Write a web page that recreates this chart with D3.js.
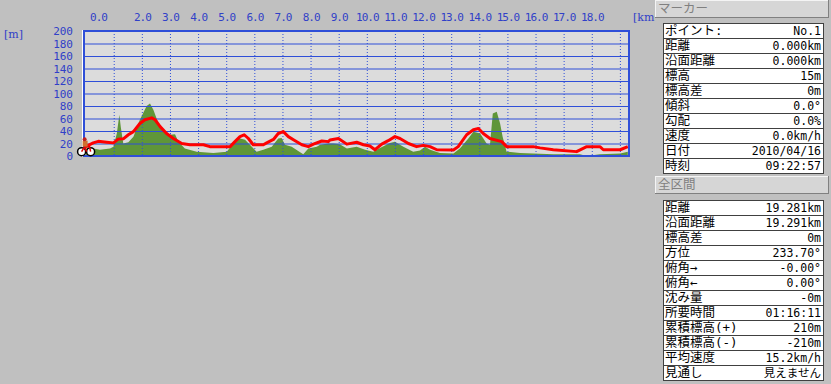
<!DOCTYPE html>
<meta charset="utf-8">
<script src="https://d3js.org/d3.v7.min.js"></script>
<style>
body { margin: 0; background: #c0c0c0; }
svg { display: block; }
.axis text { font-family: "DejaVu Sans Mono", monospace; font-size: 11px; fill: #3040c8; }
.xaxis text { letter-spacing: -1px; }
.side text { font-family: "DejaVu Sans Mono", "Noto Sans CJK JP", monospace; font-size: 12.5px; fill: #000; }
.side text.val { font-size: 11.5px; }
</style>
<body>
<div id="chart"></div>
<script>
// route profile (km along track, metres)
var routeKm = [0, 0.27, 0.45, 0.75, 0.99, 1.16, 1.34, 1.52, 1.70, 1.93, 2.11, 2.35, 2.47, 2.65, 2.88, 3.12, 3.42, 3.71, 4.19, 4.42,
  5.14, 5.31, 5.49, 5.64, 5.79, 5.96, 6.32, 6.44, 6.68, 6.85, 7.03, 7.21, 7.39, 7.69, 7.92, 8.10, 8.40, 8.63, 8.69, 8.99,
  9.29, 9.64, 9.88, 10.11, 10.29, 10.53, 10.76, 11.00, 11.18, 11.48, 11.77, 12.01, 12.25, 12.49, 13.08, 13.25, 13.55, 13.79, 13.97, 14.14,
  14.38, 14.80, 14.97, 15.92, 16.16, 16.63, 17.46, 17.82, 18.29, 18.41, 19.01, 19.281];
var routeElev = [15, 21, 23.5, 22, 21, 27, 27.5, 34, 39, 52, 58, 61, 58, 47, 36, 28, 20, 18, 18, 15,
  15, 23, 31, 34, 28, 18, 18, 21, 26.5, 36, 39, 31, 26, 18, 15, 19, 24, 23, 25.6, 28,
  19, 22, 18, 16, 10, 19, 24.5, 31, 28, 20, 15, 17, 15, 10, 9.6, 15, 34, 42, 44, 36,
  28, 23, 15, 15, 13, 10, 7, 15, 15, 10, 10, 15];

// terrain along the route
var groundKm = [0, 0.27, 0.51, 0.87, 0.99, 1.11, 1.20, 1.25, 1.34, 1.52, 1.70, 1.93, 2.17, 2.29, 2.41, 2.59, 2.76, 3.00, 3.18, 3.30,
  3.53, 3.95, 4.54, 5.02, 5.25, 5.49, 5.67, 5.91, 6.08, 6.32, 6.62, 6.85, 6.97, 7.09, 7.33, 7.56, 7.74, 7.92, 8.22, 8.34,
  8.63, 8.81, 9.04, 9.29, 9.64, 9.94, 10.23, 10.47, 10.82, 11.00, 11.30, 11.65, 11.89, 12.07, 12.25, 12.60, 13.08, 13.31, 13.61, 13.79,
  14.03, 14.26, 14.38, 14.48, 14.62, 14.74, 14.83, 14.97, 15.45, 15.92, 16.63, 17.58, 17.82, 18.29, 19.01, 19.281];
var groundElev = [12, 12, 10, 12, 15, 36, 66, 47, 20, 22, 31, 58, 80, 84, 74, 52, 39, 34, 35, 23,
  12, 7, 5, 7, 20, 28, 26, 15, 7, 10, 15, 28, 29, 18, 15, 8, 3, 12, 15, 18,
  20, 20, 19, 12, 15, 10, 7, 13, 21, 23, 15, 7, 9, 15, 10, 5, 4, 12, 28, 39,
  36, 20, 18, 68, 71, 52, 31, 7, 5, 4, 3, 3, 0, 3, 4, 7];

var xGrid = d3.range(1, 20);
var xLabels = [0, 2, 3, 4, 5, 6, 7, 8, 9, 10, 11, 12, 13, 14, 15, 16, 17, 18];
var yTicks = [0, 20, 40, 60, 80, 100, 120, 140, 160, 180, 200];

var markerLabels = ["ポイント:", "距離", "沿面距離", "標高", "標高差", "傾斜", "勾配", "速度", "日付", "時刻"];
var markerValues = ["No.1", "0.000km", "0.000km", "15m", "0m", "0.0°", "0.0%", "0.0km/h", "2010/04/16", "09:22:57"];
var totalLabels = ["距離", "沿面距離", "標高差", "方位", "俯角→", "俯角←", "沈み量", "所要時間", "累積標高(+)", "累積標高(-)", "平均速度", "見通し"];
var totalValues = ["19.281km", "19.291km", "0m", "233.70°", "-0.00°", "0.00°", "-0m", "01:16:11", "210m", "-210m", "15.2km/h", "見えません"];

var W = 831, H = 384;
var plotL = 85, plotR = 629, plotT = 31, plotB = 156;

var svg = d3.select("#chart").append("svg")
  .attr("width", W)
  .attr("height", H);

var x = d3.scaleLinear().domain([0, 19.281]).range([85.6, 627.8]);
var y = d3.scaleLinear().domain([0, 200]).range([plotB, plotT]);

svg.append("rect")
  .attr("x", plotL).attr("y", plotT)
  .attr("width", plotR - plotL).attr("height", plotB - plotT)
  .attr("fill", "#dcdcdc");

svg.append("clipPath").attr("id", "plot")
  .append("rect")
  .attr("x", plotL).attr("y", plotT)
  .attr("width", plotR - plotL).attr("height", plotB - plotT);

var area = d3.area()
  .x(function(d, i) { return x(groundKm[i]); })
  .y0(y(0))
  .y1(function(d) { return y(d); });

svg.append("path")
  .attr("clip-path", "url(#plot)")
  .attr("d", area(groundElev))
  .attr("fill", "#5f9638");

// grid lines
var yAxis = d3.axisLeft(y).tickValues(yTicks).tickSize(-(plotR - plotL)).tickPadding(12);
var gy = svg.append("g")
  .attr("class", "axis")
  .attr("transform", "translate(" + plotL + ",0)")
  .call(yAxis);
gy.select(".domain").remove();
gy.selectAll("line").attr("stroke", "#2f4fd8");

var xGridAxis = d3.axisTop(x).tickValues(xGrid).tickSize(-(plotB - plotT)).tickFormat("");
var gx = svg.append("g")
  .attr("transform", "translate(0," + plotT + ")")
  .call(xGridAxis);
gx.select(".domain").remove();
gx.selectAll("line").attr("stroke", "#2f4fd8").attr("stroke-dasharray", "1,2");

var xLabelAxis = d3.axisTop(x).tickValues(xLabels).tickSize(0).tickPadding(10)
  .tickFormat(function(d) { return d.toFixed(1); });
var gxl = svg.append("g")
  .attr("class", "axis xaxis")
  .attr("transform", "translate(0," + plotT + ")")
  .call(xLabelAxis);
gxl.select(".domain").remove();
gxl.selectAll("text").filter(function(d) { return d === 0; })
  .attr("text-anchor", "start").attr("dx", 4);

svg.append("text")
  .attr("x", 4).attr("y", 38)
  .style("font-family", "DejaVu Serif, serif").style("font-size", "11px").attr("fill", "#3040c8")
  .text("[m]");
svg.append("text")
  .attr("x", 633).attr("y", 21)
  .style("font-family", "DejaVu Serif, serif").style("font-size", "11px").attr("fill", "#3040c8")
  .text("[km");

var line = d3.line()
  .x(function(d, i) { return x(routeKm[i]); })
  .y(function(d) { return y(d); });

svg.append("path")
  .attr("clip-path", "url(#plot)")
  .attr("d", line(routeElev))
  .attr("fill", "none")
  .attr("stroke", "#ff0000")
  .attr("stroke-width", 3)
  .attr("stroke-linejoin", "round");

// frame
svg.append("rect")
  .attr("x", plotL - 1).attr("y", plotT)
  .attr("width", plotR - plotL + 1).attr("height", plotB - plotT)
  .attr("fill", "none")
  .attr("stroke", "#2f4fd8")
  .attr("stroke-width", 2);
svg.append("line")
  .attr("x1", plotL - 2.5).attr("x2", plotL - 2.5)
  .attr("y1", plotT - 1).attr("y2", plotB + 1)
  .attr("stroke", "#ffffff");

// cyclist marker at the first point
var bx = x(routeKm[0]), by = y(routeElev[0]);
var bike = svg.append("g").attr("transform", "translate(" + bx + "," + by + ")");
bike.append("circle").attr("cx", -4).attr("cy", 5).attr("r", 4).attr("fill", "#fff").attr("stroke", "#000").attr("stroke-width", 1.5);
bike.append("circle").attr("cx", 5).attr("cy", 5).attr("r", 4).attr("fill", "#fff").attr("stroke", "#000").attr("stroke-width", 1.5);
bike.append("path").attr("d", "M-4,5 L-1,0 L4,0 L5,5 M-1,0 L1,5").attr("fill", "none").attr("stroke", "#e00000").attr("stroke-width", 1.5);
bike.append("rect").attr("x", -3).attr("y", -6).attr("width", 5).attr("height", 6).attr("fill", "#d07030");
bike.append("circle").attr("cx", -1).attr("cy", -7.5).attr("r", 2).attr("fill", "#c02020");

// side panel
var side = svg.append("g").attr("class", "side");

function header(yy, label) {
  side.append("rect").attr("x", 655.5).attr("y", yy + 0.5).attr("width", 173).attr("height", 17)
    .attr("fill", "#d6d6d6").attr("stroke", "#f4f4f4");
  side.append("line").attr("x1", 655).attr("x2", 829).attr("y1", yy + 17.5).attr("y2", yy + 17.5).attr("stroke", "#808080");
  side.append("line").attr("x1", 828.5).attr("x2", 828.5).attr("y1", yy).attr("y2", yy + 18).attr("stroke", "#808080");
  side.append("text").attr("x", 658).attr("y", yy + 13).style("fill", "#808080").text(label);
}

function table(y0, labels, values) {
  var rows = side.selectAll(null).data(labels).enter().append("g")
    .attr("transform", function(d, i) { return "translate(663," + (y0 + i * 15) + ")"; });
  rows.append("rect").attr("x", 0.5).attr("y", 0.5).attr("width", 160).attr("height", 15)
    .attr("fill", "#fff").attr("stroke", "#404040");
  rows.append("text").attr("x", 2).attr("y", 12).text(function(d) { return d; });
  rows.append("text").attr("class", "val").attr("x", 158).attr("y", 12).attr("text-anchor", "end")
    .text(function(d, i) { return values[i]; });
}

header(0, "マーカー");
table(23, markerLabels, markerValues);
header(176, "全区間");
table(200, totalLabels, totalValues);
</script>
</body>
